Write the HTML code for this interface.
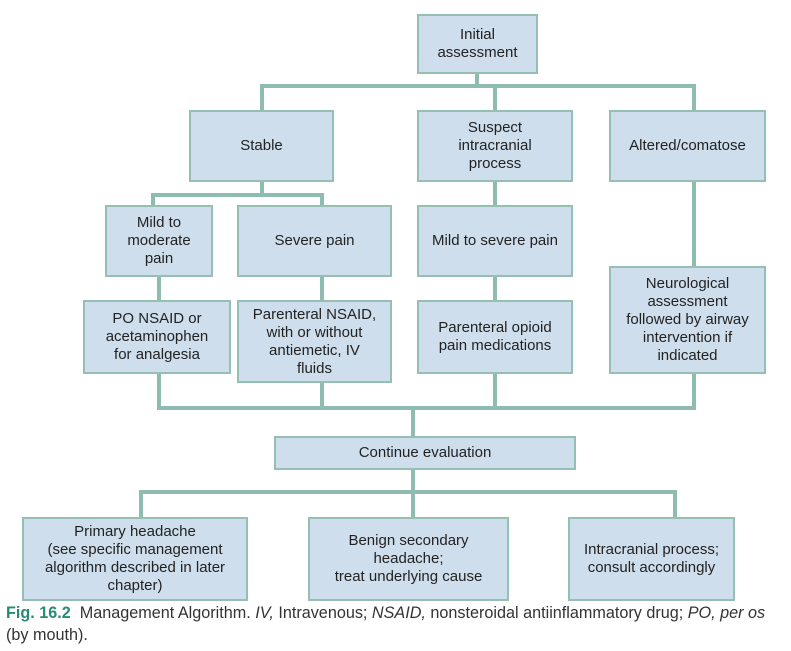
<!DOCTYPE html>
<html><head><meta charset="utf-8"><style>
body{margin:0;background:#fff;width:791px;height:651px;position:relative;overflow:hidden;font-family:"Liberation Sans Narrow","Liberation Sans",sans-serif;}
.b{position:absolute;box-sizing:border-box;background:#cfdeec;border:2px solid #96bfb4;display:flex;align-items:center;justify-content:center;text-align:center;font-size:15px;line-height:18px;color:#222;white-space:nowrap;}
.l{position:absolute;background:#8fbcb0;}
.cap{position:absolute;left:6px;top:602px;font-size:16.2px;line-height:22px;color:#333;width:790px;white-space:nowrap}
.cap b{color:#2a8a78;}
</style></head><body>
<div class="l" style="left:475px;top:74px;width:4px;height:14px"></div>
<div class="l" style="left:260px;top:84px;width:436px;height:4px"></div>
<div class="l" style="left:260px;top:84px;width:4px;height:26px"></div>
<div class="l" style="left:493px;top:84px;width:4px;height:26px"></div>
<div class="l" style="left:692px;top:84px;width:4px;height:26px"></div>
<div class="l" style="left:260px;top:182px;width:4px;height:13px"></div>
<div class="l" style="left:151px;top:193px;width:173px;height:4px"></div>
<div class="l" style="left:151px;top:193px;width:4px;height:12px"></div>
<div class="l" style="left:320px;top:193px;width:4px;height:12px"></div>
<div class="l" style="left:493px;top:182px;width:4px;height:23px"></div>
<div class="l" style="left:692px;top:182px;width:4px;height:84px"></div>
<div class="l" style="left:157px;top:277px;width:4px;height:23px"></div>
<div class="l" style="left:320px;top:277px;width:4px;height:23px"></div>
<div class="l" style="left:493px;top:277px;width:4px;height:23px"></div>
<div class="l" style="left:157px;top:374px;width:4px;height:36px"></div>
<div class="l" style="left:320px;top:383px;width:4px;height:27px"></div>
<div class="l" style="left:493px;top:374px;width:4px;height:36px"></div>
<div class="l" style="left:692px;top:374px;width:4px;height:36px"></div>
<div class="l" style="left:157px;top:406px;width:539px;height:4px"></div>
<div class="l" style="left:411px;top:406px;width:4px;height:30px"></div>
<div class="l" style="left:411px;top:470px;width:4px;height:47px"></div>
<div class="l" style="left:139px;top:490px;width:538px;height:4px"></div>
<div class="l" style="left:139px;top:490px;width:4px;height:27px"></div>
<div class="l" style="left:673px;top:490px;width:4px;height:27px"></div>
<div class="b" style="left:417px;top:14px;width:121px;height:60px">Initial<br>assessment</div>
<div class="b" style="left:189px;top:110px;width:145px;height:72px">Stable</div>
<div class="b" style="left:417px;top:110px;width:156px;height:72px">Suspect<br>intracranial<br>process</div>
<div class="b" style="left:609px;top:110px;width:157px;height:72px">Altered/comatose</div>
<div class="b" style="left:105px;top:205px;width:108px;height:72px">Mild to<br>moderate<br>pain</div>
<div class="b" style="left:237px;top:205px;width:155px;height:72px">Severe pain</div>
<div class="b" style="left:417px;top:205px;width:156px;height:72px">Mild to severe pain</div>
<div class="b" style="left:609px;top:266px;width:157px;height:108px">Neurological<br>assessment<br>followed by airway<br>intervention if<br>indicated</div>
<div class="b" style="left:83px;top:300px;width:148px;height:74px">PO NSAID or<br>acetaminophen<br>for analgesia</div>
<div class="b" style="left:237px;top:300px;width:155px;height:83px">Parenteral NSAID,<br>with or without<br>antiemetic, IV<br>fluids</div>
<div class="b" style="left:417px;top:300px;width:156px;height:74px">Parenteral opioid<br>pain medications</div>
<div class="b" style="left:274px;top:436px;width:302px;height:34px">Continue evaluation</div>
<div class="b" style="left:22px;top:517px;width:226px;height:84px">Primary headache<br>(see specific management<br>algorithm described in later<br>chapter)</div>
<div class="b" style="left:308px;top:517px;width:201px;height:84px">Benign secondary<br>headache;<br>treat underlying cause</div>
<div class="b" style="left:568px;top:517px;width:167px;height:84px">Intracranial process;<br>consult accordingly</div>
<div class="cap"><b>Fig. 16.2</b>&nbsp; Management Algorithm. <i>IV,</i> Intravenous; <i>NSAID,</i> nonsteroidal antiinflammatory drug; <i>PO, per os</i><br>(by mouth).</div>
</body></html>
